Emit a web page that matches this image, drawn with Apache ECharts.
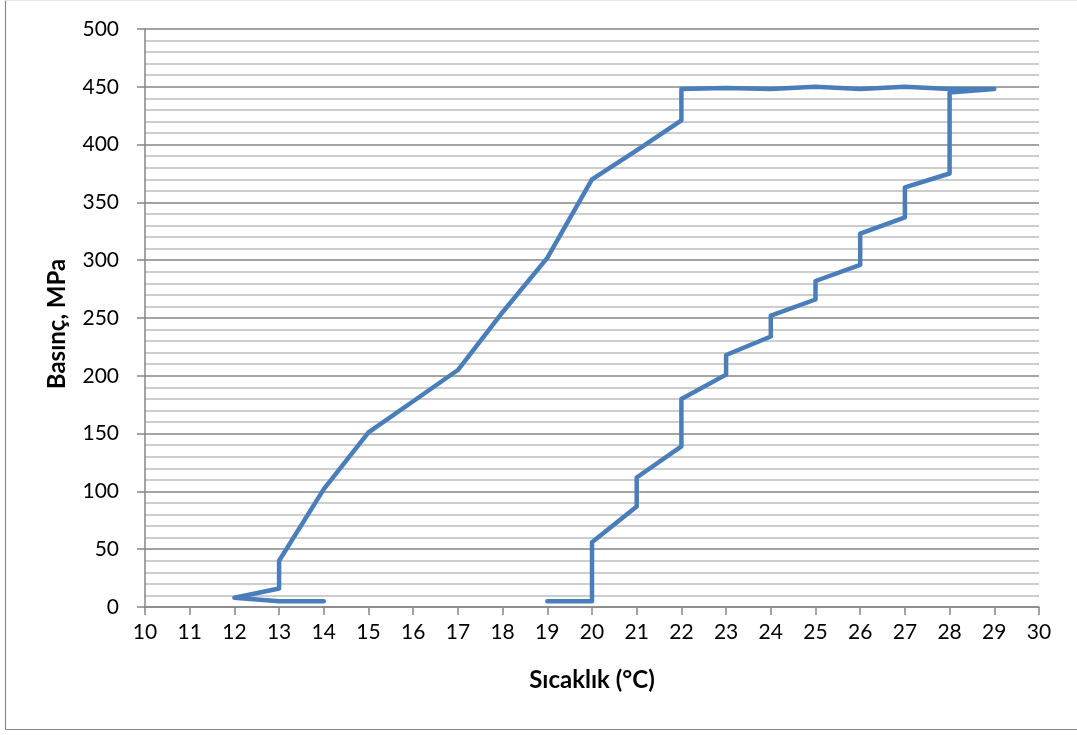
<!DOCTYPE html>
<html>
<head>
<meta charset="utf-8">
<script src="https://cdn.jsdelivr.net/npm/echarts@6/dist/echarts.min.js"></script>
<style>
  html, body { margin: 0; padding: 0; background: #ffffff; }
  #chart { width: 1077px; height: 735px; }
</style>
</head>
<body>
<div id="chart"></div>
<script>
// Temperature (°C) and pressure (MPa) readings, in measurement order
const temperature = [14, 13, 12, 13, 13, 14, 15, 16, 17, 18, 19, 20, 21, 22, 22, 23, 24, 25, 26, 27, 28, 29,
                     28, 28, 27, 27, 26, 26, 25, 25, 24, 24, 23, 23, 22, 22, 21, 21, 20, 20, 19];
const pressure    = [5, 5, 8, 16, 40, 102, 151, 178, 205, 255, 302, 370, 395, 421, 448, 449, 448, 450, 448, 450, 448, 448,
                     445, 375, 363, 337, 323, 296, 282, 266, 252, 234, 218, 201, 180, 139, 112, 87, 56, 5, 5];

const xTitle = 'Sıcaklık (°C)';
const yTitle = 'Basınç, MPa';

const FONT = 'Lato, "Open Sans", sans-serif';

const chart = echarts.init(document.getElementById('chart'), null, { renderer: 'canvas' });

const points = temperature.map((t, i) => [t, pressure[i]]);

chart.setOption({
  animation: false,
  backgroundColor: '#ffffff',
  grid: { left: 145, right: 38, top: 29, bottom: 128, containLabel: false },
  graphic: [
    {
      type: 'polyline',
      silent: true,
      shape: { points: [[5.5, 0.5], [5.5, 729.5], [1077, 729.5]] },
      style: { stroke: '#8a8a8a', lineWidth: 1.2, fill: null }
    },
    {
      type: 'line',
      silent: true,
      shape: { x1: 5.5, y1: 0.5, x2: 1077, y2: 0.5 },
      style: { stroke: '#e6e6e6', lineWidth: 1 }
    }
  ],
  xAxis: {
    type: 'value',
    min: 10, max: 30, interval: 1,
    name: xTitle,
    nameLocation: 'middle',
    nameGap: 61,
    nameTextStyle: { fontFamily: FONT, fontSize: 24, fontWeight: 'bold', color: '#000' },
    axisLine: { show: true, onZero: false, lineStyle: { color: '#868686', width: 1.5 } },
    axisTick: { show: true, inside: false, length: 8, lineStyle: { color: '#868686', width: 1.5 } },
    axisLabel: { fontFamily: FONT, fontSize: 21, color: '#000', margin: 15 },
    splitLine: { show: false }
  },
  yAxis: {
    type: 'value',
    min: 0, max: 500, interval: 50,
    name: yTitle,
    nameLocation: 'middle',
    nameGap: 76,
    nameRotate: 90,
    nameTextStyle: { fontFamily: FONT, fontSize: 24, fontWeight: 'bold', color: '#000', padding: [0, 12, 0, 0] },
    axisLine: { show: true, lineStyle: { color: '#868686', width: 1.5 } },
    axisTick: { show: true, inside: false, length: 8, lineStyle: { color: '#868686', width: 1.5 } },
    axisLabel: { fontFamily: FONT, fontSize: 21, color: '#000', margin: 26 },
    splitLine: { show: true, lineStyle: { color: '#868686', width: 1.5 } },
    minorTick: { show: false, splitNumber: 5 },
    minorSplitLine: { show: true, lineStyle: { color: '#bdbdbd', width: 1.5 } }
  },
  series: [
    {
      type: 'line',
      data: points,
      showSymbol: false,
      symbol: 'none',
      smooth: false,
      lineStyle: { color: '#4a7ebb', width: 4.5, cap: 'round', join: 'round' },
      z: 3
    }
  ]
});
</script>
</body>
</html>
